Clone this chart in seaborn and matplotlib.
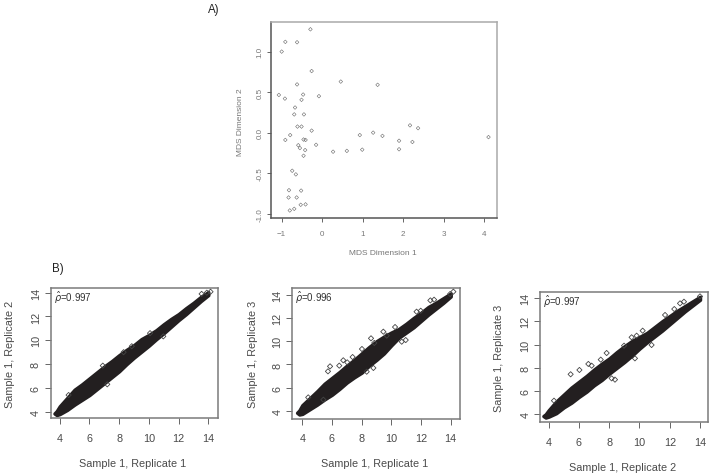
import matplotlib
matplotlib.use('Agg')
import matplotlib.pyplot as plt
import seaborn as sns

# Panel A: MDS points
mds_x = [-0.29, -0.91, -0.62, -1.0, -0.26, 0.46, -0.62, 1.37, -1.07, -0.47, -0.08, -0.92, -0.51,
         -0.67, -0.69, -0.45, -0.61, -0.51, -0.26, -0.79, -0.91, -0.46, -0.41, -0.15, -0.59, -0.55,
         -0.42, -0.46, 0.27, 0.61, 0.99, 0.93, 1.26, 1.49, 1.90, 1.90, 2.23, 2.17, 2.37, 4.11,
         -0.74, -0.65, -0.82, -0.52, -0.83, -0.63, -0.53, -0.41, -0.69, -0.80]
mds_y = [1.275, 1.12, 1.115, 1.0, 0.76, 0.63, 0.595, 0.59, 0.465, 0.47, 0.45, 0.42, 0.405,
         0.31, 0.225, 0.225, 0.075, 0.075, 0.025, -0.03, -0.09, -0.085, -0.09, -0.15, -0.155, -0.19,
         -0.215, -0.285, -0.235, -0.225, -0.21, -0.03, 0.0, -0.04, -0.10, -0.205, -0.115, 0.09, 0.055, -0.055,
         -0.47, -0.515, -0.71, -0.715, -0.80, -0.80, -0.89, -0.885, -0.94, -0.96]

# Panel B: the dense black band is read as an envelope, the loose points one by one
band_x = [3.65, 3.8, 4, 4.5, 5, 5.5, 6, 6.5, 7, 7.5, 8, 8.5, 9, 9.5, 10, 10.5, 11, 11.5, 12, 12.5, 13, 13.5, 14]

b1_low = [3.85, 3.72, 3.8, 4.15, 4.6, 5.0, 5.4, 5.9, 6.4, 6.9, 7.4, 8.0, 8.55, 9.05, 9.55, 10.1, 10.6, 11.15, 11.7, 12.2, 12.75, 13.3, 13.8]
b1_high = [3.85, 4.05, 4.45, 5.15, 5.85, 6.3, 6.8, 7.3, 7.8, 8.25, 8.75, 9.2, 9.6, 10.1, 10.45, 10.85, 11.35, 11.8, 12.2, 12.7, 13.15, 13.65, 14.05]
b1_out_x = [6.9, 7.2, 10.08, 10.97, 8.3, 8.85, 4.6, 13.55, 13.9, 14.15]
b1_out_y = [7.87, 6.3, 10.6, 10.33, 9.0, 9.5, 5.4, 13.9, 14.0, 14.08]

b2_low = [3.85, 3.7, 3.75, 4.15, 4.55, 5.0, 5.4, 5.9, 6.45, 6.9, 7.3, 7.9, 8.4, 8.95, 9.65, 10.3, 10.75, 11.2, 11.75, 12.3, 12.8, 13.3, 13.85]
b2_high = [3.85, 4.05, 4.5, 5.1, 5.7, 6.35, 6.85, 7.35, 7.9, 8.4, 8.95, 9.5, 10.0, 10.4, 10.75, 11.05, 11.5, 12.0, 12.45, 12.95, 13.3, 13.7, 14.1]
b2_out_x = [5.73, 5.87, 6.49, 6.76, 7.03, 7.39, 8.02, 8.63, 8.85, 9.46, 9.69, 10.25, 10.7, 10.97, 11.7, 11.98, 12.63, 12.88, 14.18, 8.79, 8.34, 4.4, 5.42, 13.96]
b2_out_y = [7.41, 7.84, 7.9, 8.36, 8.18, 8.64, 9.33, 10.25, 9.85, 10.82, 10.48, 11.22, 9.96, 10.1, 12.54, 12.62, 13.51, 13.57, 14.26, 7.7, 7.38, 5.17, 4.97, 14.06]

b3_low = [3.85, 3.72, 3.8, 4.1, 4.6, 5.0, 5.5, 5.95, 6.5, 6.95, 7.5, 8.0, 8.5, 9.05, 9.65, 10.2, 10.7, 11.2, 11.75, 12.3, 12.85, 13.35, 13.85]
b3_high = [3.85, 4.0, 4.35, 5.1, 5.7, 6.3, 6.8, 7.3, 7.85, 8.35, 8.8, 9.35, 9.85, 10.3, 10.65, 11.0, 11.5, 12.0, 12.45, 12.9, 13.3, 13.7, 14.1]
b3_out_x = [5.45, 6.03, 6.62, 6.84, 7.44, 7.83, 8.38, 8.16, 8.98, 9.48, 9.81, 10.21, 10.8, 9.7, 11.69, 12.3, 12.68, 12.94, 14.0, 4.35]
b3_out_y = [7.44, 7.81, 8.33, 8.18, 8.7, 9.27, 6.98, 7.09, 9.9, 10.62, 10.76, 11.19, 9.96, 8.81, 12.54, 13.05, 13.54, 13.68, 14.14, 5.17]

mds_xticks = [-1, 0, 1, 2, 3, 4]
mds_yticks = [-1.0, -0.5, 0.0, 0.5, 1.0]
expr_ticks = [4, 6, 8, 10, 12, 14]

sns.set_style('white')
plt.rcParams['font.family'] = ['Liberation Sans', 'DejaVu Sans']

W, H = 713, 477
fig = plt.figure(figsize=(W / 100, H / 100), dpi=100)


def axes_px(left, top, right, bottom):
    return fig.add_axes([left / W, 1 - bottom / H, (right - left) / W, (bottom - top) / H])


def style_axes(ax, xticks, yticks, xlim, ylim, color, size, yfmt=None):
    ax.set_xlim(xlim)
    ax.set_ylim(ylim)
    ax.set_xticks(xticks)
    ax.set_yticks(yticks)
    if yfmt:
        ax.set_yticklabels([yfmt % v for v in yticks])
    ax.tick_params(axis='both', length=4, width=0.7, color='#666666', labelcolor=color,
                   labelsize=size, bottom=True, left=True)
    ax.tick_params(axis='x', pad=6.5)
    ax.tick_params(axis='y', pad=3)
    for lab in ax.get_yticklabels():
        lab.set_rotation(90)
        lab.set_va('center')
    for sp in ax.spines.values():
        sp.set_color('#7a7a7a')
        sp.set_linewidth(1.1)
        sp.set_visible(True)


# A) MDS plot
ax = axes_px(271, 23, 497, 219)
sns.scatterplot(x=mds_x, y=mds_y, ax=ax, marker='D', s=3.5, facecolor='none',
                edgecolor='#666666', linewidth=0.4)
style_axes(ax, mds_xticks, mds_yticks, (-1.264, 4.32), (-1.053, 1.365), '#777777', 5.8, '%.1f')
ax.spines['left'].set_color('#555555')
ax.spines['bottom'].set_color('#555555')
ax.spines['top'].set_color('#aaaaaa')
ax.spines['right'].set_color('#aaaaaa')
ax.tick_params(axis='both', length=3)
ax.tick_params(axis='x', pad=6)
ax.tick_params(axis='y', pad=2.5)
fig.text(383 / W, 1 - 253.5 / H, 'MDS Dimension 1', fontsize=6, color='#777777', ha='center', va='center')
fig.text(240 / W, 1 - 122 / H, 'MDS Dimension 2', fontsize=6, color='#777777', ha='center', va='center', rotation=90)
fig.text(208 / W, 1 - 10 / H, 'A)', fontsize=8.3, color='#222222', ha='left', va='center')
fig.text(52 / W, 1 - 269 / H, 'B)', fontsize=8.3, color='#222222', ha='left', va='center')

# B) replicate scatter panels
panels = [
    ((50.7, 289, 218, 419.3), (59.7, 208.3, 293.7, 412.7), b1_low, b1_high, b1_out_x, b1_out_y,
     'Sample 1, Replicate 1', 'Sample 1, Replicate 2', '0.997', (133, 464), (10.5, 354)),
    ((292.3, 289, 460, 419.7), (302.3, 450.7, 295.7, 412), b2_low, b2_high, b2_out_x, b2_out_y,
     'Sample 1, Replicate 1', 'Sample 1, Replicate 3', '0.996', (375, 464), (252.5, 354)),
    ((540, 292.7, 708, 423.3), (548.7, 700, 299, 415.3), b3_low, b3_high, b3_out_x, b3_out_y,
     'Sample 1, Replicate 2', 'Sample 1, Replicate 3', '0.997', (623, 468), (499.5, 358)),
]

for box, tk, low, high, out_x, out_y, xlab, ylab, rho, xpos, ypos in panels:
    ax = axes_px(*box)
    x_unit = (tk[1] - tk[0]) / 10
    y_unit = (tk[3] - tk[2]) / 10
    xlim = (4 - (tk[0] - box[0]) / x_unit, 14 + (box[2] - tk[1]) / x_unit)
    ylim = (4 - (box[3] - tk[3]) / y_unit, 14 + (tk[2] - box[1]) / y_unit)
    ax.fill_between(band_x, low, high, color='#231f20', linewidth=2.5)
    sns.scatterplot(x=out_x, y=out_y, ax=ax, marker='D', s=7, facecolor='none',
                    edgecolor='#444444', linewidth=0.6, zorder=3)
    style_axes(ax, expr_ticks, expr_ticks, xlim, ylim, '#4a4a4a', 7.8)
    fig.text(xpos[0] / W, 1 - xpos[1] / H, xlab, fontsize=7.8, color='#4a4a4a', ha='center', va='center')
    fig.text(ypos[0] / W, 1 - ypos[1] / H, ylab, fontsize=7.8, color='#4a4a4a', ha='center', va='center', rotation=90)
    # rho with a hat as one text
    tx, ty = box[0] + 3, box[1] + 9
    fig.text(tx / W, 1 - ty / H, '$\\hat{\\rho}$=' + rho, fontsize=7, color='#333333', ha='left', va='center')

fig.savefig('out.png', dpi=100)
